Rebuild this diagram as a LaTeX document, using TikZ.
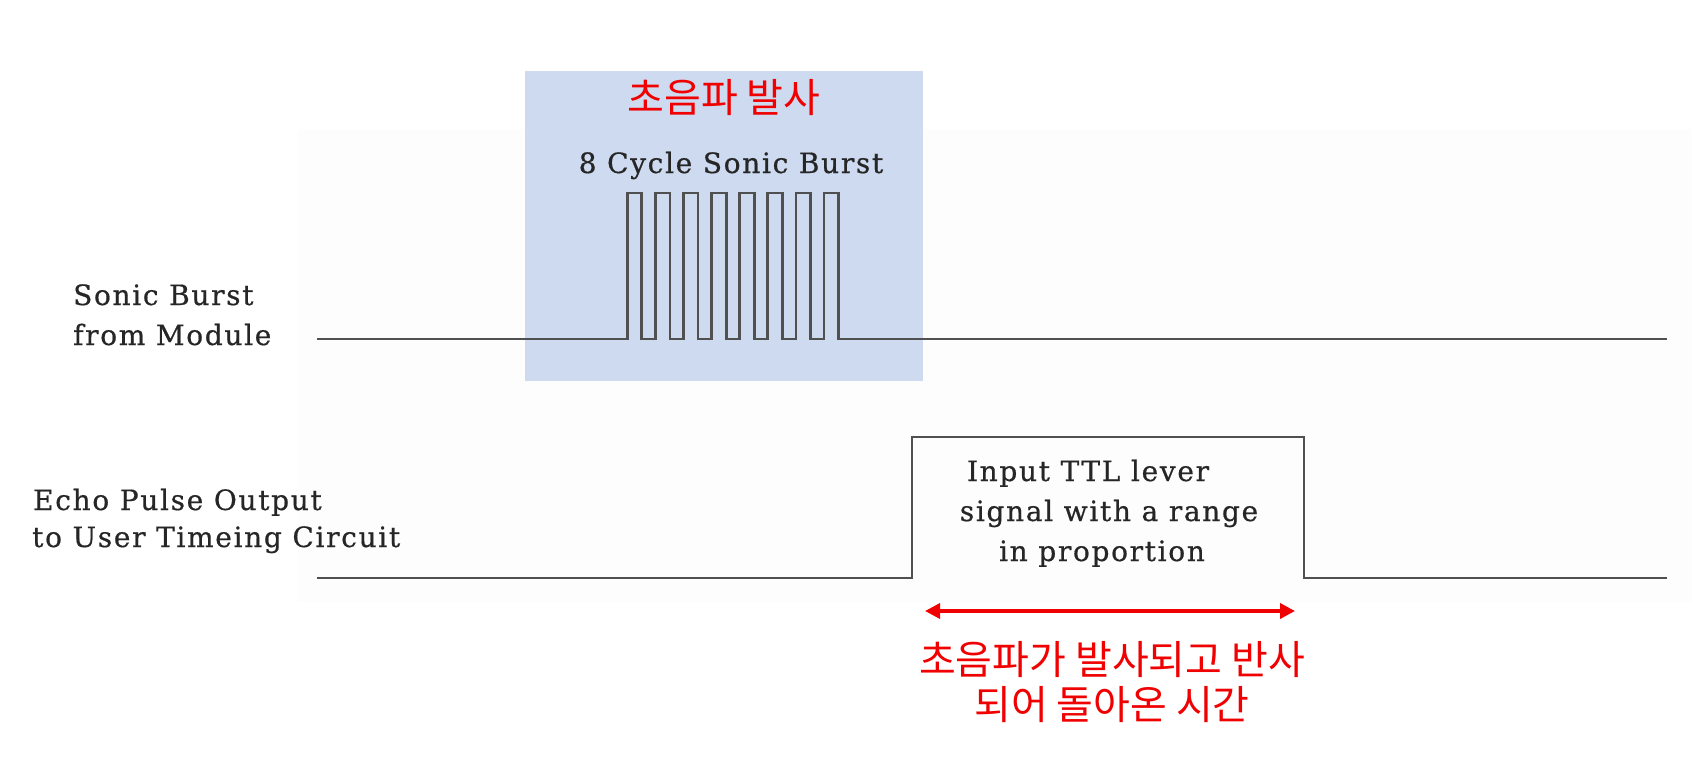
\documentclass[tikz,border=0pt]{standalone}
\usepackage{fontspec}
\usetikzlibrary{arrows.meta}
\newfontfamily\oldfont{DejaVu Serif}[LetterSpace=6,FakeBold=0.6]
\newfontfamily\krfont{Noto Sans CJK KR}
\definecolor{burstblue}{RGB}{205,218,240}
\definecolor{faint}{RGB}{253,253,253}
\definecolor{wave}{RGB}{80,80,80}
\definecolor{redtxt}{RGB}{240,0,0}
\tikzset{
  oldtxt/.style={inner sep=0pt, text=black!85, font=\oldfont\fontsize{28}{33}\selectfont},
  krtxt/.style={inner sep=0pt, text=redtxt, font=\krfont\fontsize{40}{48}\selectfont},
  waveline/.style={draw=wave, line width=2.8pt, line join=miter},
  span/.style={draw=redtxt, line width=3.5pt, {Triangle[length=15pt,width=15pt]}-{Triangle[length=15pt,width=15pt]}}
}
\begin{document}
\begin{tikzpicture}[x=1pt,y=-1pt]
\useasboundingbox (0,0) rectangle (1707,773);
% faint scanned background
\fill[faint] (298,129) rectangle (1692,602);
% highlight box
\fill[burstblue] (525,71) rectangle (923,381);
% sonic burst waveform
\draw[waveline] (317,339) -- (627.3,339)
  \foreach \k in {0,...,7} {
    -- ({627.3+28.1*\k},339) -- ({627.3+28.1*\k},193) -- ({641.8+28.1*\k},193) -- ({641.8+28.1*\k},339)
  } -- (1667,339);
% echo pulse waveform
\draw[waveline] (317,578) -- (912,578) -- (912,437) -- (1304,437) -- (1304,578) -- (1667,578);
% labels
\node[krtxt] (burstkr) at (724,98) {초음파 발사};
\node[oldtxt, anchor=base] (cycle) at (731,173) {8 Cycle Sonic Burst};
\node[oldtxt, anchor=base west] (sb1) at (73,305) {Sonic Burst};
\node[oldtxt, anchor=base west] (sb2) at (73,345) {from Module};
\node[oldtxt, anchor=base west] (ep1) at (33,510) {Echo Pulse Output};
\node[oldtxt, anchor=base west] (ep2) at (32,547) {to User Timeing Circuit};
\node[oldtxt, anchor=base] (ttl1) at (1088,481) {Input TTL lever};
\node[oldtxt, anchor=base] (ttl2) at (1109,521) {signal with a range};
\node[oldtxt, anchor=base] (ttl3) at (1102,561) {in proportion};
% time span arrow
\coordinate (spanL) at (925,611);
\coordinate (spanR) at (1295,611);
\draw[span] (spanL) -- (spanR);
\node[krtxt] (time1) at (1112,660) {초음파가 발사되고 반사};
\node[krtxt] (time2) at (1112,705) {되어 돌아온 시간};
\end{tikzpicture}
\end{document}
